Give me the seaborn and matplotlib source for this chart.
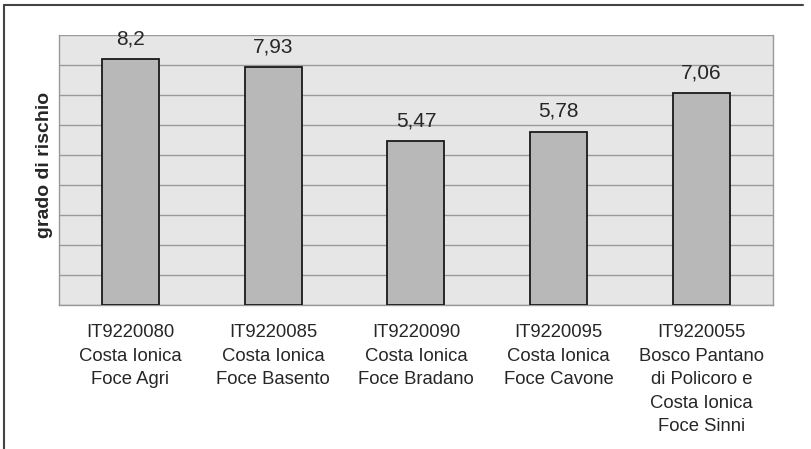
import numpy as np
import pandas as pd
import matplotlib
matplotlib.use("Agg")
import matplotlib.pyplot as plt
import seaborn as sns
from matplotlib.lines import Line2D

# dati del grafico
siti = ["IT9220080\nCosta Ionica\nFoce Agri",
        "IT9220085\nCosta Ionica\nFoce Basento",
        "IT9220090\nCosta Ionica\nFoce Bradano",
        "IT9220095\nCosta Ionica\nFoce Cavone",
        "IT9220055\nBosco Pantano\ndi Policoro e\nCosta Ionica\nFoce Sinni"]
rischio = [8.2, 7.93, 5.47, 5.78, 7.06]
etichette = ["8,2", "7,93", "5,47", "5,78", "7,06"]

df = pd.DataFrame({"sito": siti, "rischio": rischio})

sns.set_style("white")
plt.rcParams["font.family"] = ["Liberation Sans", "DejaVu Sans"]

fig = plt.figure(figsize=(8.11, 4.49), dpi=100)
ax = fig.add_axes([0.0727, 0.321, 0.953 - 0.0727, 0.922 - 0.321])
ax.set_facecolor("#e6e6e6")

sns.barplot(data=df, x="sito", y="rischio", color="#b8b8b8", width=0.4,
            edgecolor="#1a1a1a", linewidth=1.3, saturation=1, ax=ax, zorder=3)

ax.set_ylim(0, 9)
ax.set_xlim(-0.5, 4.5)
ax.set_yticks(np.arange(0, 10, 1))
ax.set_yticklabels([])
ax.tick_params(axis="y", length=0)
ax.yaxis.grid(True, color="#9a9a9a", linewidth=1, zorder=0)
ax.set_axisbelow(True)

# tacche tra le categorie
ax.set_xticks(np.arange(5))
ax.tick_params(axis="x", length=0, labelsize=13.3, pad=14)
ax.set_xticks(np.arange(-0.5, 5, 1), minor=True)
ax.tick_params(axis="x", which="minor", length=5, color="#888888", width=1)

for p, t in zip(ax.patches, etichette):
    ax.text(p.get_x() + p.get_width() / 2, p.get_height() + 0.36, t,
            ha="center", va="bottom", fontsize=15)

for lbl in ax.get_xticklabels():
    lbl.set_linespacing(1.5)

ax.set_xlabel("")
ax.set_ylabel("grado di rischio", fontsize=14, fontweight="bold")
ax.yaxis.set_label_coords(-0.009, 0.52)

for s in ["left", "right", "bottom"]:
    ax.spines[s].set_color("#999999")
    ax.spines[s].set_linewidth(1)
ax.spines["top"].set_visible(False)

# cornice esterna (lati sinistro e superiore)
fig.add_artist(Line2D([0.0055, 0.0055], [0, 0.989], color="#444444", lw=1.5,
                      transform=fig.transFigure))
fig.add_artist(Line2D([0.0055, 0.99], [0.989, 0.989], color="#444444", lw=1.5,
                      transform=fig.transFigure))

fig.savefig("out.png", dpi=100, facecolor="white")
